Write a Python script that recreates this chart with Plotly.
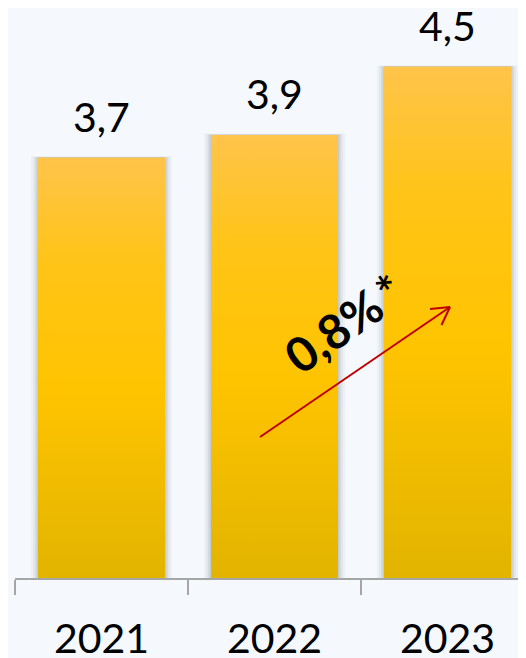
import plotly.graph_objects as go

# ---- data ----
years = ["2021", "2022", "2023"]
values = [3.7, 3.9, 4.5]
value_labels = ["3,7", "3,9", "4,5"]
growth_label = "0,8%"
growth_note = "*"

# ---- geometry / style ----
BG = "#F5F9FD"
PAGE_OFF = 8                     # default body margin of the html page
W, H = 526 - PAGE_OFF, 658 - PAGE_OFF
AXIS_Y = 578                     # page y of the category axis
PLOT_LEFT = 15                   # page x of the plot's left edge
L, R, T = PLOT_LEFT - PAGE_OFF, 0, 0
B = H - (AXIS_Y - PAGE_OFF)
plot_w = W - L - R
plot_h = H - T - B
cat_px = 173.0
px_per_unit = 113.6
x_range = [-0.5, -0.5 + plot_w / cat_px]
y_range = [0, plot_h / px_per_unit]
half = (127 / cat_px) / 2
FONT = "Lato"


def px2x(px):
    return -0.5 + (px - PLOT_LEFT) / cat_px


def px2y(py):
    return (AXIS_Y - py) / px_per_unit


xs = list(range(len(years)))
fig = go.Figure()

# base bars
fig.add_trace(go.Bar(x=xs, y=values, width=2 * half, marker=dict(color="#FFC300", line=dict(width=0)),
                     hoverinfo="skip", showlegend=False))

# soft shadows
for k, op in [(7, 0.05), (5, 0.07), (3, 0.09), (1.5, 0.12)]:
    for i, v in zip(xs, values):
        dx = half + k / cat_px
        top = v + (k * 0.2) / px_per_unit
        fig.add_trace(go.Scatter(x=[i - dx, i + dx, i + dx, i - dx, i - dx], y=[0, 0, top, top, 0],
                                 fill="toself", mode="lines", line=dict(width=0),
                                 fillcolor=f"rgba(90,100,120,{op})", hoverinfo="skip", showlegend=False))

# gradient bar faces
for i, v in zip(xs, values):
    fig.add_trace(go.Scatter(x=[i - half, i + half, i + half, i - half, i - half], y=[0, 0, v, v, 0],
                             fill="toself", mode="lines", line=dict(width=0),
                             fillgradient=dict(type="vertical",
                                               colorscale=[[0, "#E2B400"], [0.45, "#FFC400"], [0.75, "#FFC417"], [1, "#FFC44A"]]),
                             hoverinfo="skip", showlegend=False))

annotations = []
for i, v, lab in zip(xs, values, value_labels):
    annotations.append(dict(x=i, y=v, xref="x", yref="y", text=lab, showarrow=False,
                            yanchor="bottom", yshift=15, font=dict(family=FONT, size=41, color="#000000")))

annotations.append(dict(x=px2x(333), y=px2y(330), xref="x", yref="y",
                        text=growth_label, showarrow=False, textangle=-35,
                        font=dict(family=FONT, size=48, color="#000000", weight="bold")))
annotations.append(dict(x=px2x(389), y=px2y(290), xref="x", yref="y",
                        text=growth_note, showarrow=False, textangle=-35,
                        font=dict(family=FONT, size=46, color="#000000", weight="bold")))

# arrow (line + open head)
arrow_col = "#C00000"
shapes = [
    dict(type="line", xref="x", yref="y", x0=px2x(260), y0=px2y(437), x1=px2x(450), y1=px2y(307),
         line=dict(color=arrow_col, width=2)),
    dict(type="line", xref="x", yref="y", x0=px2x(450), y0=px2y(307), x1=px2x(430), y1=px2y(309),
         line=dict(color=arrow_col, width=2)),
    dict(type="line", xref="x", yref="y", x0=px2x(450), y0=px2y(307), x1=px2x(441.5), y1=px2y(325),
         line=dict(color=arrow_col, width=2)),
]

fig.update_layout(
    width=W, height=H, margin=dict(l=L, r=R, t=T, b=B, autoexpand=False),
    paper_bgcolor=BG, plot_bgcolor=BG, showlegend=False,
    annotations=annotations, shapes=shapes,
    xaxis=dict(range=x_range, showline=True, linecolor="#A6A6A6", linewidth=1.5, automargin=False,
               tickmode="array", tickvals=xs, ticktext=years, ticks="outside", ticklen=24,
               tickcolor="rgba(0,0,0,0)", tickfont=dict(family=FONT, size=41, color="#000000"),
               minor=dict(tickmode="linear", tick0=-0.5, dtick=1, ticks="outside", ticklen=15,
                          tickcolor="#A6A6A6", tickwidth=1.5, showgrid=False),
               showgrid=False, zeroline=False, fixedrange=True),
    yaxis=dict(range=y_range, visible=False, fixedrange=True, automargin=False),
)

fig.write_html("out.html")
